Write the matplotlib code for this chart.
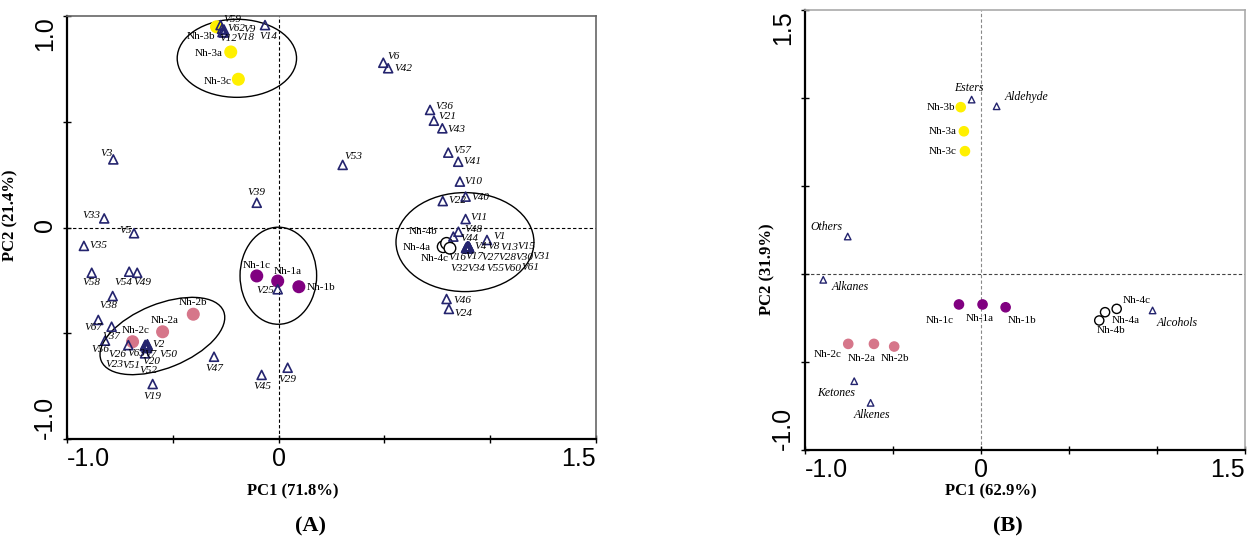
"""PCA biplots of samples and volatile compounds (panels A and B)."""

import matplotlib.pyplot as plt
from matplotlib.patches import Ellipse
from matplotlib.ticker import FixedLocator, FixedFormatter

plt.rcParams["font.family"] = ["Liberation Serif", "DejaVu Serif"]

# ---------------- panel A data ----------------
A_SAMPLES = ["Nh-1a", "Nh-1b", "Nh-1c", "Nh-2a", "Nh-2b", "Nh-2c",
             "Nh-3a", "Nh-3b", "Nh-3c", "Nh-4a", "Nh-4b", "Nh-4c"]
A_SAMPLE_X = [-0.004, 0.096, -0.103, -0.548, -0.403, -0.690,
              -0.226, -0.293, -0.190, 0.778, 0.794, 0.810]
A_SAMPLE_Y = [-0.253, -0.280, -0.229, -0.493, -0.410, -0.540,
              0.830, 0.949, 0.701, -0.091, -0.075, -0.098]
SAMPLE_GROUP = [1, 1, 1, 2, 2, 2, 3, 3, 3, 4, 4, 4]

A_VARS = ["V1", "V2", "V3", "V4", "V5", "V6", "V7", "V8", "V9", "V10",
          "V11", "V12", "V13", "V14", "V15", "V16", "V17", "V18", "V19", "V20",
          "V21", "V22", "V23", "V24", "V25", "V26", "V27", "V28", "V29", "V30",
          "V31", "V32", "V33", "V34", "V35", "V36", "V37", "V38", "V39", "V40",
          "V41", "V42", "V43", "V44", "V45", "V46", "V47", "V48", "V49", "V50",
          "V51", "V52", "V53", "V54", "V55", "V56", "V57", "V58", "V59", "V60",
          "V61", "V62", "V63", "V67"]
A_VAR_X = [0.985, -0.620, -0.781, 0.893, -0.683, 0.495, -0.624, 0.895, -0.258, 0.857,
           0.884, -0.265, 0.897, -0.064, 0.899, 0.887, 0.891, -0.258, -0.595, -0.631,
           0.734, 0.776, -0.630, 0.805, -0.004, -0.710, 0.894, 0.896, 0.043, 0.898,
           0.900, 0.886, -0.824, 0.890, -0.920, 0.716, -0.789, -0.784, -0.103, 0.884,
           0.849, 0.518, 0.774, 0.826, -0.080, 0.794, -0.305, 0.850, -0.668, -0.618,
           -0.626, -0.622, 0.303, -0.706, 0.895, -0.820, 0.802, -0.883, -0.274, 0.899,
           0.901, -0.267, -0.632, -0.852]
A_VAR_Y = [-0.059, -0.552, 0.322, -0.089, -0.027, 0.779, -0.562, -0.091, 0.936, 0.217,
           0.040, 0.924, -0.093, 0.957, -0.090, -0.095, -0.092, 0.922, -0.740, -0.595,
           0.505, 0.125, -0.555, -0.385, -0.292, -0.556, -0.096, -0.094, -0.663, -0.096,
           -0.092, -0.097, 0.043, -0.098, -0.087, 0.556, -0.469, -0.324, 0.117, 0.146,
           0.311, 0.753, 0.469, -0.043, -0.697, -0.338, -0.611, -0.020, -0.214, -0.558,
           -0.562, -0.570, 0.296, -0.209, -0.099, -0.535, 0.354, -0.214, 0.957, -0.097,
           -0.094, 0.939, -0.560, -0.437]

# cluster outlines: centre x, centre y, width, height, angle
A_ELL_X = [-0.197, -0.001, -0.549, 0.881]
A_ELL_Y = [0.800, -0.228, -0.513, -0.069]
A_ELL_W = [0.564, 0.362, 0.624, 0.652]
A_ELL_H = [0.369, 0.459, 0.303, 0.468]
A_ELL_ANGLE = [0, 0, 22, 0]

# ---------------- panel B data ----------------
B_SAMPLES = ["Nh-1a", "Nh-1b", "Nh-1c", "Nh-2a", "Nh-2b", "Nh-2c",
             "Nh-3a", "Nh-3b", "Nh-3c", "Nh-4a", "Nh-4b", "Nh-4c"]
B_SAMPLE_X = [0.009, 0.140, -0.125, -0.608, -0.493, -0.754,
              -0.097, -0.115, -0.091, 0.705, 0.672, 0.771]
B_SAMPLE_Y = [-0.173, -0.189, -0.173, -0.397, -0.412, -0.397,
              0.811, 0.948, 0.698, -0.217, -0.264, -0.198]

B_CLASSES = ["Esters", "Aldehyde", "Others", "Alkanes", "Alcohols", "Ketones", "Alkenes"]
B_CLASS_X = [-0.053, 0.089, -0.757, -0.896, 0.975, -0.720, -0.627]
B_CLASS_Y = [0.991, 0.953, 0.213, -0.033, -0.207, -0.609, -0.732]

# ---------------- styling ----------------
GROUP_FACE = {1: "#800080", 2: "#d6768a", 3: "#fff000", 4: "white"}
GROUP_EDGE = {1: "#800080", 2: "#d6768a", 3: "#fff000", 4: "black"}
TRI_COLOR = "#24246e"

# label offsets in pixels (dx, dy, ha)
A_LABEL_POS = {
    "Nh-1a": (10, 10, "center"), "Nh-1b": (8, -1, "left"), "Nh-1c": (0, 10, "center"),
    "Nh-2a": (2, 11, "center"), "Nh-2b": (0, 12, "center"), "Nh-2c": (3, 11, "center"),
    "Nh-3a": (-8, -2, "right"), "Nh-3b": (-1, -10, "right"), "Nh-3c": (-7, -2, "right"),
    "Nh-4a": (-12, -1, "right"), "Nh-4b": (-9, 12, "right"), "Nh-4c": (-1, -10, "right"),
    "V1": (6, 3, "left"), "V2": (5, 0, "left"), "V3": (-1, 6, "right"),
    "V4": (7, 0, "left"), "V5": (-2, 3, "right"), "V6": (4, 6, "left"),
    "V7": (-2, -8, "left"), "V8": (19, 0, "left"), "V9": (19, 0, "left"),
    "V10": (5, 0, "left"), "V11": (5, 2, "left"), "V12": (-3, -6, "left"),
    "V13": (32, 0, "left"), "V14": (3, -11, "center"), "V15": (49, 0, "left"),
    "V16": (-18, -10, "left"), "V17": (-2, -10, "left"), "V18": (12, -5, "left"),
    "V19": (0, -12, "center"), "V20": (6, -8, "center"), "V21": (5, 4, "left"),
    "V22": (6, 1, "left"), "V23": (-40, -20, "left"), "V24": (6, -5, "left"),
    "V25": (-3, -1, "right"), "V26": (-20, -9, "left"), "V27": (14, -10, "left"),
    "V28": (30, -10, "left"), "V29": (0, -12, "center"), "V30": (47, -10, "left"),
    "V31": (63, -10, "left"), "V32": (-16, -20, "left"), "V33": (-4, 3, "right"),
    "V34": (1, -20, "left"), "V35": (6, 0, "left"), "V36": (5, 3, "left"),
    "V37": (0, -10, "center"), "V38": (-4, -9, "center"), "V39": (0, 10, "center"),
    "V40": (6, -1, "left"), "V41": (5, 0, "left"), "V42": (6, 0, "left"),
    "V43": (5, -1, "left"), "V44": (7, -2, "left"), "V45": (1, -12, "center"),
    "V46": (7, -2, "left"), "V47": (0, -12, "center"), "V48": (6, 2, "left"),
    "V49": (5, -10, "center"), "V50": (12, -9, "left"), "V51": (-24, -19, "left"),
    "V52": (1, -22, "center"), "V53": (2, 8, "left"), "V54": (-6, -11, "center"),
    "V55": (18, -20, "left"), "V56": (-5, -9, "center"), "V57": (5, 2, "left"),
    "V58": (0, -10, "center"), "V59": (3, 6, "left"), "V60": (35, -20, "left"),
    "V61": (52, -20, "left"), "V62": (5, 0, "left"), "V63": (-17, -8, "left"),
    "V67": (-5, -8, "center"),
}

B_LABEL_POS = {
    "Esters": (-3, 12, "center"), "Aldehyde": (8, 9, "left"), "Others": (-21, 10, "center"),
    "Alkanes": (8, -7, "left"), "Alcohols": (25, -13, "center"),
    "Ketones": (-18, -12, "center"), "Alkenes": (1, -12, "center"),
    "Nh-1a": (-3, -14, "center"), "Nh-1b": (16, -13, "center"), "Nh-1c": (-19, -16, "center"),
    "Nh-2a": (-12, -15, "center"), "Nh-2b": (1, -12, "center"), "Nh-2c": (-21, -11, "center"),
    "Nh-3a": (-7, 0, "right"), "Nh-3b": (-6, 0, "right"), "Nh-3c": (-8, 0, "right"),
    "Nh-4a": (21, -8, "center"), "Nh-4b": (12, -10, "center"), "Nh-4c": (20, 8, "center"),
}


def style_axes(ax, ylim, ylabels, xlabel, ylabel, right_color):
    ax.set_xlim(-1.0, 1.5)
    ax.set_ylim(*ylim)
    ax.xaxis.set_major_locator(FixedLocator([-1.0, -0.5, 0, 0.5, 1.0, 1.5]))
    ax.xaxis.set_major_formatter(FixedFormatter(["-1.0", "", "0", "", "", "1.5"]))
    yt = [v / 2 for v in range(int(ylim[0] * 2), int(ylim[1] * 2) + 1)]
    ax.yaxis.set_major_locator(FixedLocator(yt))
    ax.yaxis.set_major_formatter(FixedFormatter([ylabels.get(v, "") for v in yt]))
    ax.tick_params(direction="inout", length=6, width=1, labelsize=18)
    ax.tick_params(axis="x", pad=3)
    ax.tick_params(axis="y", pad=4)
    for lab in ax.get_xticklabels() + ax.get_yticklabels():
        lab.set_fontfamily(["Liberation Sans", "DejaVu Sans"])
    xl = ax.get_xticklabels()
    xl[0].set_ha("left")
    xl[-1].set_ha("right")
    yl = ax.get_yticklabels()
    for lab in yl:
        lab.set_rotation(90)
    yl[0].set_va("bottom")
    yl[-1].set_va("top")
    for side in ("left", "bottom"):
        ax.spines[side].set_linewidth(1.6)
        ax.spines[side].set_color("black")
    for side in ("top", "right"):
        ax.spines[side].set_linewidth(1.2)
        ax.spines[side].set_color(right_color)
    ax.set_xlabel(xlabel, fontsize=12, fontweight="bold")
    ax.set_ylabel(ylabel, fontsize=12, fontweight="bold")


def label_points(ax, names, xs, ys, positions, size, italic):
    for name, x, y in zip(names, xs, ys):
        dx, dy, ha = positions[name]
        ax.annotate(name, (x, y), xytext=(dx, dy), textcoords="offset pixels",
                    ha=ha, va="center", fontsize=size,
                    style="italic" if italic else "normal", zorder=5)


def main() -> None:
    fig = plt.figure(figsize=(12.47, 5.5), dpi=100)
    ax_a = fig.add_axes([0.0537, 0.2018, 0.4242, 0.7691])
    ax_b = fig.add_axes([0.6455, 0.1818, 0.3529, 0.8000])

    dash = dict(color="black", lw=0.8, linestyle=(0, (3, 2)), zorder=1)

    # ----- panel A -----
    ax_a.axhline(0, **dash)
    ax_a.axvline(0, **dash)
    for cx, cy, w, h, ang in zip(A_ELL_X, A_ELL_Y, A_ELL_W, A_ELL_H, A_ELL_ANGLE):
        ax_a.add_patch(Ellipse((cx, cy), w, h, angle=ang, fill=False,
                               edgecolor="black", lw=1.0, zorder=2))
    ax_a.scatter(A_SAMPLE_X, A_SAMPLE_Y, s=70,
                 c=[GROUP_FACE[g] for g in SAMPLE_GROUP],
                 edgecolors=[GROUP_EDGE[g] for g in SAMPLE_GROUP],
                 linewidths=1.0, zorder=3)
    ax_a.scatter(A_VAR_X, A_VAR_Y, s=42, marker="^", facecolors="none",
                 edgecolors=TRI_COLOR, linewidths=1.2, zorder=4)
    label_points(ax_a, A_SAMPLES, A_SAMPLE_X, A_SAMPLE_Y, A_LABEL_POS, 8, False)
    label_points(ax_a, A_VARS, A_VAR_X, A_VAR_Y, A_LABEL_POS, 8, True)
    style_axes(ax_a, (-1.0, 1.0), {-1.0: "-1.0", 0.0: "0", 1.0: "1.0"},
               "PC1 (71.8%)", "PC2 (21.4%)", "#666666")
    ax_a.xaxis.set_label_coords(0.427, -0.105)
    ax_a.yaxis.set_label_coords(-0.092, 0.53)
    fig.text(0.249, 0.025, "(A)", ha="center", va="bottom", fontsize=16,
             fontweight="bold")

    # ----- panel B -----
    ax_b.axhline(0, color="#444444", lw=0.8, linestyle=(0, (3, 2)), zorder=1)
    ax_b.axvline(0, color="#888888", lw=0.8, linestyle=(0, (3, 2)), zorder=1)
    ax_b.scatter(B_SAMPLE_X, B_SAMPLE_Y, s=44,
                 c=[GROUP_FACE[g] for g in SAMPLE_GROUP],
                 edgecolors=[GROUP_EDGE[g] for g in SAMPLE_GROUP],
                 linewidths=1.0, zorder=3)
    ax_b.scatter(B_CLASS_X, B_CLASS_Y, s=22, marker="^", facecolors="none",
                 edgecolors=TRI_COLOR, linewidths=1.0, zorder=4)
    label_points(ax_b, B_SAMPLES, B_SAMPLE_X, B_SAMPLE_Y, B_LABEL_POS, 8, False)
    label_points(ax_b, B_CLASSES, B_CLASS_X, B_CLASS_Y, B_LABEL_POS, 8.5, True)
    # the "0" on the PC2 axis sits under the axis title in the reference
    style_axes(ax_b, (-1.0, 1.5), {-1.0: "-1.0", 1.5: "1.5"},
               "PC1 (62.9%)", "PC2 (31.9%)", "#aaaaaa")
    ax_b.xaxis.set_label_coords(0.423, -0.077)
    ax_b.yaxis.set_label_coords(-0.068, 0.41)
    fig.text(0.808, 0.025, "(B)", ha="center", va="bottom", fontsize=16,
             fontweight="bold")

    fig.savefig("out.png", dpi=100)
    plt.close(fig)


if __name__ == "__main__":
    main()
